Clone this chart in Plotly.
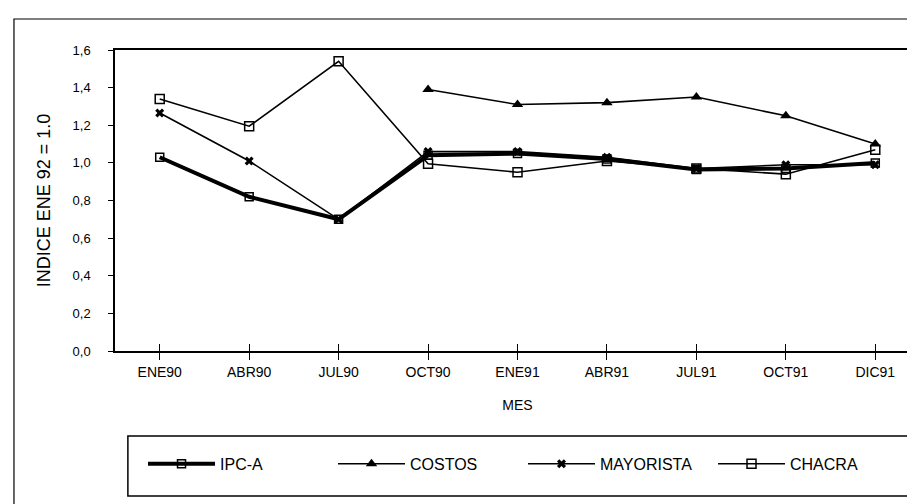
import plotly.graph_objects as go

categories = ["ENE90", "ABR90", "JUL90", "OCT90", "ENE91", "ABR91", "JUL91", "OCT91", "DIC91"]
ipc_a = [1.03, 0.82, 0.70, 1.04, 1.05, 1.02, 0.965, 0.97, 1.00]
costos = [None, None, None, 1.39, 1.31, 1.32, 1.35, 1.25, 1.10]
mayorista = [1.265, 1.01, 0.70, 1.06, 1.06, 1.03, 0.97, 0.99, 0.99]
chacra = [1.34, 1.195, 1.54, 0.995, 0.95, 1.01, 0.97, 0.94, 1.07]
y_ticks = [0.0, 0.2, 0.4, 0.6, 0.8, 1.0, 1.2, 1.4, 1.6]

FONT = "Liberation Sans, Arial, sans-serif"
BLACK = "#000000"

fig = go.Figure()
fig.add_trace(go.Scatter(
    x=categories, y=ipc_a, name="IPC-A", mode="lines+markers",
    line=dict(color=BLACK, width=4),
    marker=dict(symbol="square-open", size=8, color=BLACK, line=dict(width=1.5)),
))
fig.add_trace(go.Scatter(
    x=categories, y=costos, name="COSTOS", mode="lines+markers",
    line=dict(color=BLACK, width=1.6),
    marker=dict(symbol="triangle-up", size=10, color=BLACK),
))
fig.add_trace(go.Scatter(
    x=categories, y=mayorista, name="MAYORISTA", mode="lines+markers",
    line=dict(color=BLACK, width=1.6),
    marker=dict(symbol="x", size=8, color=BLACK),
))
fig.add_trace(go.Scatter(
    x=categories, y=chacra, name="CHACRA", mode="lines+markers",
    line=dict(color=BLACK, width=1.6),
    marker=dict(symbol="square-open", size=9, color=BLACK, line=dict(width=1.5)),
))
# overlay axis so the x ticks cross the axis line
fig.add_trace(go.Scatter(x=categories, y=[None] * len(categories), xaxis="x2",
                         showlegend=False, hoverinfo="skip"))

fig.update_layout(
    width=915, height=504,
    margin=dict(l=107, r=3, t=42, b=161, autoexpand=False),
    paper_bgcolor="white", plot_bgcolor="white",
    separators=",.",
    font=dict(family=FONT, size=14, color=BLACK),
    xaxis=dict(
        type="category", categoryorder="array", categoryarray=categories,
        range=[-0.5, 8.5],
        showline=True, linecolor=BLACK, linewidth=1.5, mirror=True,
        showgrid=False, zeroline=False,
        ticks="outside", ticklen=7, tickwidth=1, tickcolor=BLACK,
        tickfont=dict(family=FONT, size=14),
        title=dict(text="MES", font=dict(family=FONT, size=14), standoff=22),
    ),
    xaxis2=dict(
        type="category", categoryorder="array", categoryarray=categories,
        range=[-0.5, 8.5], overlaying="x", side="bottom", anchor="y",
        showline=False, showgrid=False, zeroline=False, showticklabels=False,
        ticks="inside", ticklen=7, tickwidth=1, tickcolor=BLACK,
    ),
    yaxis=dict(
        range=[0, 1.6], tickvals=y_ticks, tickformat=".1f",
        showline=True, linecolor=BLACK, linewidth=1.5, mirror=True,
        showgrid=False, zeroline=False,
        ticks="outside", ticklen=5, tickwidth=1, tickcolor=BLACK,
        ticklabelstandoff=15,
        tickfont=dict(family=FONT, size=13),
        title=dict(text="INDICE ENE 92 = 1.0", font=dict(family=FONT, size=18), standoff=17),
    ),
    legend=dict(
        orientation="h", x=0.0348, xanchor="left", y=-0.375, yanchor="middle",
        bgcolor="rgba(0,0,0,0)", borderwidth=0,
        itemwidth=67,
        entrywidth=108, entrywidthmode="pixels",
        font=dict(family=FONT, size=16),
    ),
    shapes=[
        # outer frame
        dict(type="rect", xref="paper", yref="paper",
             x0=-0.1255, x1=1.0025, y0=-0.5216, y1=1.103,
             line=dict(color=BLACK, width=1.2), layer="below"),
        # legend box
        dict(type="rect", xref="paper", yref="paper",
             x0=0.016, x1=0.985, y0=-0.482, y1=-0.282,
             line=dict(color=BLACK, width=1.5), layer="below"),
    ],
    showlegend=True,
)

fig.write_html("out.html")
